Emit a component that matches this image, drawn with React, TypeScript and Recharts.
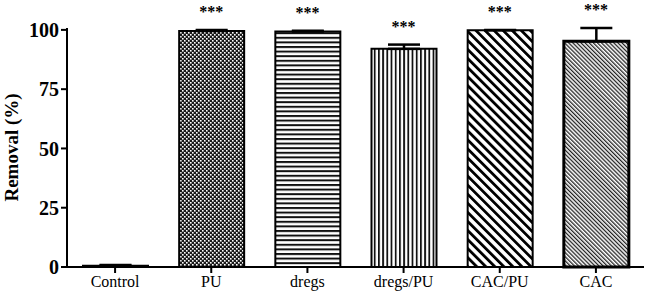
import React from 'react';
import {
  ComposedChart,
  Bar,
  Line,
  Cell,
  ErrorBar,
  LabelList,
  XAxis,
  YAxis
} from 'recharts';

const groups = ['Control', 'PU', 'dregs', 'dregs/PU', 'CAC/PU', 'CAC'];
const removal = [0.5, 99.5, 99.3, 92.0, 99.8, 95.2];
const errUp = [0.3, 0.5, 0.3, 1.8, 0.2, 5.6];
const stars = ['', '***', '***', '***', '***', '***'];
const fills = ['#fff', 'url(#pu)', 'url(#dregs)', 'url(#dregsPu)', 'url(#cacPu)', 'url(#cac)'];
const yTicks = [0, 25, 50, 75, 100];

const data = groups.map((name, i) => ({
  name,
  value: removal[i],
  err: [0, errUp[i]],
  top: removal[i] + errUp[i],
  stars: stars[i]
}));

const font = '"Liberation Serif", "Times New Roman", serif';

const StarLabel = (props: any) => {
  const { x, y, value } = props;
  if (!value) return null;
  return (
    <text
      x={x}
      y={y - 13}
      textAnchor="middle"
      fontFamily={font}
      fontWeight="bold"
      fontSize={16}
      fill="#000"
    >
      {value}
    </text>
  );
};

export default function App() {
  return (
    <div style={{ position: 'absolute', left: 0, top: 0, background: '#fff' }}>
      <ComposedChart
        width={645}
        height={294}
        data={data}
        margin={{ top: 28, right: 1, bottom: 0, left: 0 }}
      >
        <defs>
          <pattern id="pu" patternUnits="userSpaceOnUse" width="4" height="4">
            <rect width="4" height="4" fill="#1a1a1a" />
            <rect x="0" y="0" width="1.6" height="1.6" fill="#fff" />
            <rect x="2" y="2" width="1.6" height="1.6" fill="#fff" />
          </pattern>
          <pattern id="dregs" patternUnits="userSpaceOnUse" width="5" height="4.6">
            <rect width="5" height="4.6" fill="#fff" />
            <rect y="0" width="5" height="2" fill="#111" />
          </pattern>
          <pattern id="dregsPu" patternUnits="userSpaceOnUse" width="4.2" height="5">
            <rect width="4.2" height="5" fill="#fff" />
            <rect x="0" width="1.8" height="5" fill="#111" />
          </pattern>
          <pattern
            id="cacPu"
            patternUnits="userSpaceOnUse"
            width="6.4"
            height="6.4"
            patternTransform="rotate(-45)"
          >
            <rect width="6.4" height="6.4" fill="#fff" />
            <rect x="0" width="2.8" height="6.4" fill="#000" />
          </pattern>
          <pattern
            id="cac"
            patternUnits="userSpaceOnUse"
            width="2.9"
            height="2.9"
            patternTransform="rotate(-45)"
          >
            <rect width="2.9" height="2.9" fill="#fff" />
            <rect x="0" width="1.3" height="2.9" fill="#222" />
          </pattern>
        </defs>
        <XAxis
          dataKey="name"
          height={27}
          axisLine={{ stroke: '#000', strokeWidth: 2 }}
          tickLine={{ stroke: '#000', strokeWidth: 2 }}
          tickSize={6}
          tickMargin={3}
          interval={0}
          tick={{ fill: '#000', fontFamily: font, fontSize: 16 }}
        />
        <YAxis
          width={67}
          domain={[0, 100]}
          ticks={yTicks}
          axisLine={{ stroke: '#000', strokeWidth: 2 }}
          tickLine={{ stroke: '#000', strokeWidth: 2 }}
          tickSize={6}
          tickMargin={2}
          tick={{ fill: '#000', fontFamily: font, fontSize: 20, fontWeight: 'bold' }}
          label={{
            value: 'Removal (%)',
            angle: -90,
            position: 'insideLeft',
            offset: 11,
            style: {
              textAnchor: 'middle',
              fontFamily: font,
              fontWeight: 'bold',
              fontSize: 19,
              fill: '#000'
            }
          }}
        />
        <Bar dataKey="value" barSize={65} stroke="#000" strokeWidth={2} isAnimationActive={false}>
          {data.map((d, i) => (
            <Cell key={d.name} fill={fills[i]} strokeWidth={i === 5 ? 3 : 2} />
          ))}
          <ErrorBar dataKey="err" width={16} stroke="#000" strokeWidth={2.5} direction="y" />
        </Bar>
        <Line
          dataKey="top"
          stroke="none"
          dot={false}
          activeDot={false}
          isAnimationActive={false}
        >
          <LabelList dataKey="stars" content={StarLabel} />
        </Line>
      </ComposedChart>
    </div>
  );
}
